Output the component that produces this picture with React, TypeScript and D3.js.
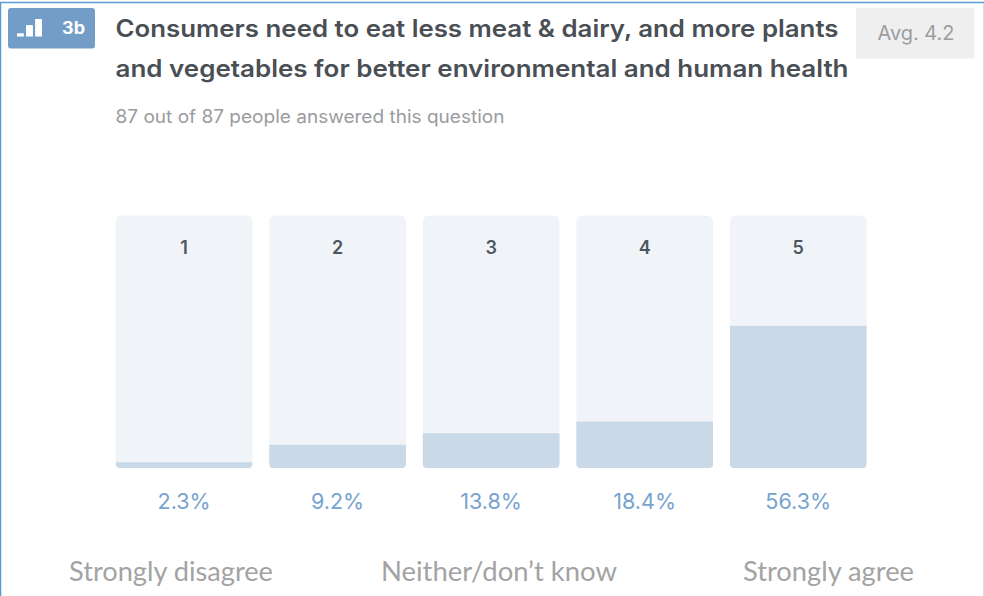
import React from "react";
import * as d3 from "d3";

const categories = ["1", "2", "3", "4", "5"];
const shares = [2.3, 9.2, 13.8, 18.4, 56.3];
const shareLabels = ["2.3%", "9.2%", "13.8%", "18.4%", "56.3%"];
const titleLines = [
  "Consumers need to eat less meat & dairy, and more plants",
  "and vegetables for better environmental and human health",
];
const subtitle = "87 out of 87 people answered this question";
const avgLabel = "Avg. 4.2";
const badgeLabel = "3b";
const iconSteps = [1, 2, 3];
const scaleNotes = [
  { text: "Strongly disagree", at: "1" },
  { text: "Neither/don\u2019t know", at: "3" },
  { text: "Strongly agree", at: "5" },
];

const W = 984;
const H = 596;
const sans = "Inter, 'Open Sans', sans-serif";

export default function App() {
  const x = d3.scaleBand<string>().domain(categories).range([107.3, 875]).paddingInner(0.1098).paddingOuter(0.055);
  const y = d3.scaleLinear().domain([0, 100]).range([468, 215.5]);
  const bw = x.bandwidth();
  const iconX = d3.scaleBand<number>().domain(iconSteps).range([17, 42]).paddingInner(0.24);
  const iconY = d3.scaleLinear().domain([0, 3]).range([36.5, 19]);
  const iconH = [0.55, 1.95, 3];
  const noteWidths = [204, 236, 171];
  const noteX = [171, 499, 828.5];

  const shapePath = (x0: number, x1: number, y0: number, y1: number, r: number, roundTop: boolean) => {
    const p = d3.path();
    const rt = roundTop ? r : 0;
    p.moveTo(x0 + rt, y0);
    p.lineTo(x1 - rt, y0);
    if (rt) p.arcTo(x1, y0, x1, y0 + rt, rt);
    p.lineTo(x1, y1 - r);
    p.arcTo(x1, y1, x1 - r, y1, r);
    p.lineTo(x0 + r, y1);
    p.arcTo(x0, y1, x0, y1 - r, r);
    p.lineTo(x0, y0 + rt);
    if (rt) p.arcTo(x0, y0, x0 + rt, y0, rt);
    p.closePath();
    return p.toString();
  };

  return (
    <svg width={W} height={H} style={{ position: "fixed", left: 0, top: 0, background: "#fff" }}>
      <rect x={0.5} y={2.5} width={W + 10} height={H + 10} fill="none" stroke="#5b9bd5" strokeWidth={1.5} />
      <rect x={983} y={3} width={1} height={H} fill="#d5deee" />

      <rect x={8} y={8} width={87} height={40.5} rx={3} fill="#719dc6" />
      {iconSteps.map((s, i) => (
        <rect key={s} x={iconX(s)} y={iconY(iconH[i])} width={iconX.bandwidth()} height={iconY(0) - iconY(iconH[i])} fill="#fff" />
      ))}
      <text x={73.5} y={34} textAnchor="middle" fontFamily={sans} fontWeight={700} fontSize={17} fill="#fff" textLength={23} lengthAdjust="spacingAndGlyphs">{badgeLabel}</text>

      {titleLines.map((t, i) => (
        <text key={t} x={115.5} y={37 + i * 40} fontFamily={sans} fontWeight={600} fontSize={24} fill="#4a4f55" textLength={i === 0 ? 723 : 733} lengthAdjust="spacingAndGlyphs">{t}</text>
      ))}
      <text x={115.5} y={123} fontFamily={sans} fontSize={18} fill="#999b9e" textLength={389} lengthAdjust="spacingAndGlyphs">{subtitle}</text>

      <rect x={856} y={8} width={118.5} height={50.5} fill="#efefef" />
      <text x={916} y={39.5} textAnchor="middle" fontFamily={sans} fontSize={20} fill="#9b9da0" textLength={77} lengthAdjust="spacingAndGlyphs">{avgLabel}</text>

      {categories.map((c, i) => {
        const x0 = x(c)!;
        return (
          <g key={c}>
            <path d={shapePath(x0, x0 + bw, y(100), y(0), 6, true)} fill="#f0f4f9" />
            <path d={shapePath(x0, x0 + bw, y(shares[i]), y(0), 4, false)} fill="#c9d9e8" />
            <text x={x0 + bw / 2} y={254} textAnchor="middle" fontFamily={sans} fontWeight={600} fontSize={18} fill="#4e565e">{c}</text>
            <text x={x0 + bw / 2} y={508.5} textAnchor="middle" fontFamily={sans} fontSize={21.5} fill="#77a3cf">{shareLabels[i]}</text>
          </g>
        );
      })}

      {scaleNotes.map((n, i) => (
        <text key={n.text} x={noteX[i]} y={581} textAnchor="middle" fontFamily="Lato, 'Open Sans', sans-serif" fontSize={27} fill="#a3a3a3" textLength={noteWidths[i]} lengthAdjust="spacingAndGlyphs">{n.text}</text>
      ))}
    </svg>
  );
}
